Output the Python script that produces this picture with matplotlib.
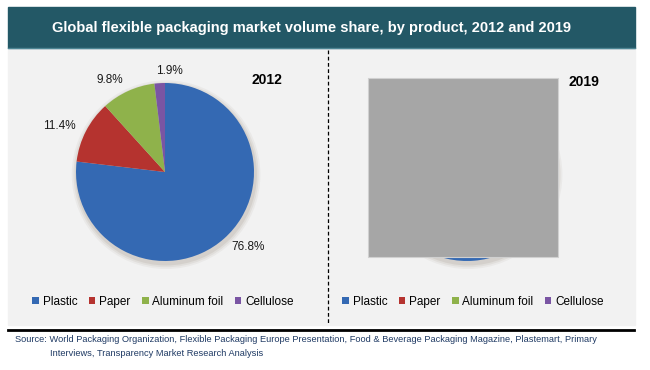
import matplotlib.pyplot as plt
from matplotlib.patches import Rectangle, Circle
from matplotlib.lines import Line2D

plt.rcParams['font.family'] = ['Liberation Sans', 'DejaVu Sans']

products = ['Plastic', 'Paper', 'Aluminum foil', 'Cellulose']
share2012 = [76.8, 11.4, 9.8, 1.9]
share2019 = [78.0, 10.6, 9.4, 2.0]   # hidden behind the grey box in the source
colors = ['#3469b3', '#b5332f', '#8fb24b', '#7a55a3']
title = 'Global flexible packaging market volume share, by product, 2012 and 2019'
source1 = ('Source: World Packaging Organization, Flexible Packaging Europe Presentation, '
           'Food & Beverage Packaging Magazine, Plastemart, Primary')
source2 = 'Interviews, Transparency Market Research Analysis'

W, H = 650, 370
fig = plt.figure(figsize=(W / 100, H / 100), dpi=100)
fig.patch.set_facecolor('white')


def box(x0, y0, x1, y1):
    # pixel box (top-left origin) -> figure fraction rect
    return [x0 / W, 1 - y1 / H, (x1 - x0) / W, (y1 - y0) / H]


def fx(x):
    return x / W


def fy(y):
    return 1 - y / H


# header band and panel
r = box(8, 7, 635, 48)
fig.patches.append(Rectangle(r[:2], r[2], r[3], transform=fig.transFigure,
                             color='#235866', zorder=-2))
fig.lines.append(Line2D([fx(8), fx(635)], [fy(48), fy(48)], transform=fig.transFigure,
                        color='#4d8593', lw=1, zorder=-1))
r = box(8, 50, 635, 325)
fig.patches.append(Rectangle(r[:2], r[2], r[3], transform=fig.transFigure,
                             color='#f2f2f2', zorder=-2))
fig.lines.append(Line2D([fx(328), fx(328)], [fy(50), fy(325)], transform=fig.transFigure,
                        color='black', lw=0.9, ls=(0, (3, 2)), zorder=-1))
fig.lines.append(Line2D([fx(8), fx(634)], [fy(330), fy(330)], transform=fig.transFigure,
                        color='black', lw=2))

fig.text(fx(312), fy(28), title, color='white', fontsize=10.5, fontweight='bold',
         ha='center', va='center')


def draw_pie(cx, cy, rad, values, year, year_xy, labels=True):
    ax = fig.add_axes(box(cx - rad, cy - rad, cx + rad, cy + rad))
    ax.axis('off')
    # soft drop shadow
    for k, a in enumerate([0.06, 0.08, 0.10]):
        ax.add_patch(Circle((0.012, -0.03), 1.0 + 0.02 * (3 - k), color='#6e5e48',
                            alpha=a, lw=0, zorder=0, clip_on=False))
    pct = ['%.1f%%' % v for v in values] if labels else None
    wedges, texts = ax.pie(values, colors=colors, startangle=90, counterclock=False,
                           radius=1, labels=pct, labeldistance=1.13,
                           textprops={'fontsize': 8.5, 'color': '#1a1a1a'},
                           wedgeprops={'linewidth': 0, 'zorder': 2})
    for w in wedges:
        w.set_clip_on(False)
    if labels:
        texts[-1].set_ha('center')
        texts[-1].set_position((0.05, 1.14))
    ax.set_xlim(-1, 1)
    ax.set_ylim(-1, 1)
    fig.text(fx(year_xy[0]), fy(year_xy[1]), year, fontsize=10, fontweight='bold',
             ha='center', va='center')
    return wedges


w1 = draw_pie(165, 172, 89, share2012, '2012', (267, 80))
w2 = draw_pie(467, 172, 89, share2019, '2019', (584, 82), labels=False)

# redaction box over 2019 pie
r = box(368, 78, 558, 257)
fig.patches.append(Rectangle(r[:2], r[2], r[3], transform=fig.transFigure,
                             facecolor='#a6a6a6', edgecolor='#d0d0d0', lw=0.8, zorder=3))

for handles, xc in [(w1, 163), (w2, 473)]:
    fig.legend(handles, products, loc='center', bbox_to_anchor=(fx(xc), fy(302)),
               ncol=4, frameon=False, fontsize=8.5, handlelength=0.55, handleheight=0.55,
               handletextpad=0.3, columnspacing=1.0, borderpad=0)

fig.text(fx(15), fy(340), source1, fontsize=6.7, color='#1f3a64', va='center')
fig.text(fx(50), fy(354), source2, fontsize=6.7, color='#1f3a64', va='center')

fig.savefig('out.png', dpi=100)
